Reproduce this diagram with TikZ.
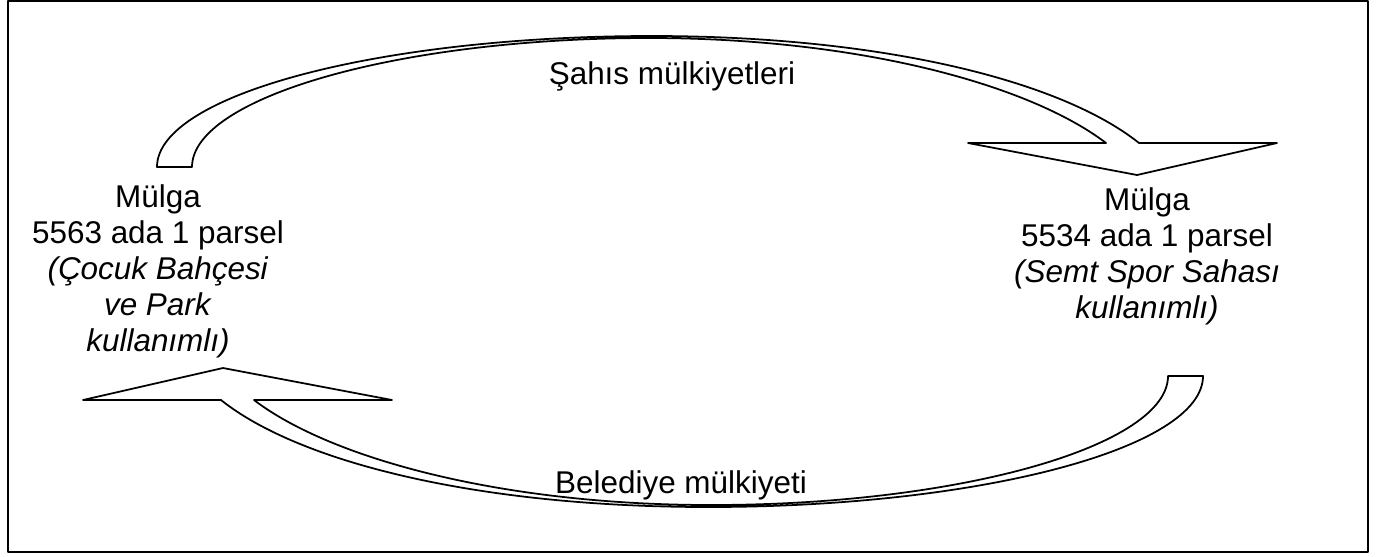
\documentclass[tikz,border=0pt]{standalone}
\usepackage{fontspec}
\setmainfont{Liberation Sans}
\begin{document}
\begin{tikzpicture}[x=0.02cm,y=-0.02cm,line join=round,
  ribbon/.style={draw,line width=1pt},
  txt/.style={font=\fontsize{17.9pt}{20.5pt}\selectfont,inner sep=0pt,align=center}]
\useasboundingbox (0,0) rectangle (1388,556);
\draw[line width=1.3pt] (8,1) rectangle (1368,552);
% upper arrow, and the same arrow turned round for the lower one
\foreach \ang in {0,180}
  \draw[ribbon,rotate around={\ang:(680,271.5)}] (157,167) .. controls (157,95) and (379,36) .. (652,36)
    .. controls (880,36) and (1060,80) .. (1139,143) -- (1277,143) -- (1137,175) -- (968,143) -- (1106,143)
    .. controls (1030,85) and (860,38) .. (649,38) .. controls (397,38) and (192,98) .. (192,167) -- cycle;
\node[txt,anchor=base] (sahis) at (672,84) {Şahıs mülkiyetleri};
\node[txt,anchor=base] (belediye) at (681,493) {Belediye mülkiyeti};
\node[txt,anchor=north] (eski) at (158,184) {Mülga\\5563 ada 1 parsel\\\textit{(Çocuk Bahçesi}\\\textit{ve Park}\\\textit{kullanımlı)}};
\node[txt,anchor=north] (yeni) at (1147,187) {Mülga\\5534 ada 1 parsel\\\textit{(Semt Spor Sahası}\\\textit{kullanımlı)}};
\end{tikzpicture}
\end{document}
